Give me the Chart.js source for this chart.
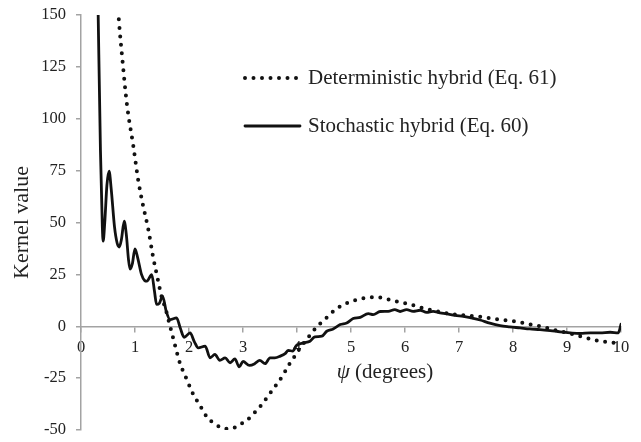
<!DOCTYPE html>
<html>
<head>
<meta charset="utf-8">
<script src="https://cdn.jsdelivr.net/npm/chart.js@4.4.1/dist/chart.umd.min.js"></script>
<style>
  html, body { margin: 0; padding: 0; background: #fff; }
</style>
</head>
<body>
<canvas id="kernelChart" width="641" height="442"></canvas>
<script>
// Deterministic hybrid (Eq. 61), dotted curve
const detX = [0.69, 0.70, 0.77, 0.85, 0.97, 1.06, 1.15, 1.25, 1.33, 1.43, 1.49, 1.57, 1.64, 1.70, 1.76, 1.83,
  1.96, 2.08, 2.20, 2.34, 2.45, 2.57, 2.73, 2.88, 3.00, 3.14, 3.24, 3.35, 3.44, 3.53, 3.62, 3.72, 3.80,
  3.88, 3.98, 4.07, 4.17, 4.25, 4.35, 4.46, 4.58, 4.69, 4.83, 4.97, 5.12, 5.28, 5.43, 5.59, 5.75, 5.91,
  6.06, 6.22, 6.37, 6.53, 6.68, 6.83, 6.99, 7.14, 7.30, 7.45, 7.62, 7.77, 7.93, 8.09, 8.24, 8.39, 8.55,
  8.70, 8.86, 9.01, 9.17, 9.32, 9.48, 9.63, 9.78, 10.0];
const detY = [152, 148, 127.6, 107, 86.7, 70.3, 58.1, 46.2, 34.1, 21.7, 14.5, 8, 1, -5, -11, -17.6,
  -25.7, -32.9, -38, -44.1, -46.5, -48.5, -49.4, -48.5, -46.5, -43.8, -40.9, -37.7, -34.5, -31.3, -28.1, -24.4, -20.9,
  -17.3, -13.6, -9.9, -6.7, -4, -0.8, 2.1, 4.8, 7.6, 10, 11.6, 12.9, 13.7, 14, 13.7, 12.5, 11.6,
  10.8, 9.6, 8.5, 7.6, 6.7, 6, 5.5, 5.2, 4.8, 4.4, 3.7, 3.2, 2.7, 2.1, 1.3, 0.5, -0.3,
  -1.3, -2.4, -3.2, -4.3, -5.3, -6.4, -7.2, -7.7, -8.3];

// Stochastic hybrid (Eq. 60), solid curve
const stoX = [0.315, 0.36, 0.395, 0.41, 0.44, 0.48, 0.52, 0.56, 0.62, 0.67, 0.71, 0.75, 0.80, 0.84, 0.88, 0.91,
  0.95, 1.00, 1.05, 1.12, 1.18, 1.22, 1.31, 1.36, 1.40, 1.45, 1.51, 1.58, 1.65, 1.77, 1.84, 1.91, 2.02,
  2.10, 2.17, 2.30, 2.39, 2.48, 2.57, 2.67, 2.76, 2.85, 2.93, 3.00, 3.12, 3.22, 3.31, 3.41, 3.50, 3.59,
  3.69, 3.78, 3.84, 3.92, 3.99, 4.12, 4.24, 4.33, 4.46, 4.55, 4.67, 4.80, 4.92, 5.04, 5.17, 5.32, 5.41,
  5.54, 5.69, 5.81, 5.91, 6.03, 6.15, 6.28, 6.40, 6.52, 6.65, 6.77, 6.93, 7.08, 7.23, 7.39, 7.57, 7.76,
  7.94, 8.13, 8.31, 8.50, 8.69, 8.87, 9.06, 9.24, 9.43, 9.61, 9.80, 9.95, 10.0];
const stoY = [155, 85, 48, 41, 50, 68, 74.7, 66, 48, 40, 38.2, 42, 50.6, 44, 32, 27.5,
  30, 37.3, 33, 25, 22, 21.7, 24.9, 17, 10.5, 11, 14.5, 7, 3.2, 4, -1, -5.3, -3.2,
  -7.5, -10.4, -9.6, -15.2, -13.6, -16.4, -15.2, -17.6, -15.7, -19.6, -16.9, -18.9, -18, -16.4, -18, -15.2, -15.2,
  -14.4, -13.2, -11.6, -12, -9.3, -8, -7.2, -5.1, -4.8, -2.4, -1.3, 0.8, 1.6, 3.7, 4.3, 6.1, 5.6,
  7.1, 7.2, 8, 7.1, 8, 7.2, 7.7, 6.7, 7.2, 6.4, 6, 5.2, 4.8, 4, 3, 1.5, 0.3,
  -0.3, -0.8, -1.3, -1.6, -2.1, -2.7, -3.2, -3.5, -3.2, -3.2, -2.9, -3.2, 1];

const yTicks = [-50, -25, 0, 25, 50, 75, 100, 125, 150];
const xTicks = [0, 1, 2, 3, 4, 5, 6, 7, 8, 9, 10];

const seriesLabels = ['Deterministic hybrid (Eq. 61)', 'Stochastic hybrid (Eq. 60)'];

const toPoints = (xs, ys) => xs.map((x, i) => ({ x: x, y: ys[i] }));

const SERIF = "'Liberation Serif', 'Times New Roman', serif";
const AXIS_GREY = '#a3a3a3';
const TEXT = '#222';

Chart.defaults.font.family = SERIF;
Chart.defaults.color = TEXT;

// legend drawn inside the plot, to the right
const sideLegend = {
  id: 'sideLegend',
  afterDraw(chart) {
    const ctx = chart.ctx;
    const area = chart.chartArea;
    chart.data.datasets.forEach((ds, i) => {
      const y = area.top + 63 + i * 48;
      const x0 = area.left + 164;
      ctx.save();
      ctx.strokeStyle = ds.borderColor;
      ctx.lineWidth = ds.borderWidth;
      ctx.lineCap = ds.borderCapStyle || 'butt';
      ctx.setLineDash(ds.borderDash || []);
      ctx.beginPath();
      ctx.moveTo(x0, y);
      ctx.lineTo(x0 + 55, y);
      ctx.stroke();
      ctx.setLineDash([]);
      ctx.fillStyle = TEXT;
      ctx.font = '21px ' + SERIF;
      ctx.textBaseline = 'middle';
      ctx.fillText(ds.label, x0 + 63, y);
      ctx.restore();
    });
  }
};

// x title with italic psi, sits under the tick labels of the zero line
const xTitle = {
  id: 'xTitle',
  afterDraw(chart) {
    const ctx = chart.ctx;
    const area = chart.chartArea;
    const y = chart.scales.y.getPixelForValue(0) + 46;
    const cx = area.left + 0.563 * (area.right - area.left);
    ctx.save();
    ctx.fillStyle = TEXT;
    ctx.textBaseline = 'middle';
    ctx.font = 'italic 21px ' + SERIF;
    const psi = 'ψ';
    const psiW = ctx.measureText(psi).width;
    ctx.font = '21px ' + SERIF;
    const rest = ' (degrees)';
    const restW = ctx.measureText(rest).width;
    const x0 = cx - (psiW + restW) / 2;
    ctx.font = 'italic 21px ' + SERIF;
    ctx.fillText(psi, x0, y);
    ctx.font = '21px ' + SERIF;
    ctx.fillText(rest, x0 + psiW, y);
    ctx.restore();
  }
};

new Chart(document.getElementById('kernelChart'), {
  type: 'line',
  data: {
    datasets: [{
      label: seriesLabels[0],
      data: toPoints(detX, detY),
      borderColor: '#111',
      borderWidth: 4,
      borderDash: [0, 8.5],
      borderCapStyle: 'round',
      pointRadius: 0,
      tension: 0.4,
      cubicInterpolationMode: 'monotone',
      fill: false
    }, {
      label: seriesLabels[1],
      data: toPoints(stoX, stoY),
      borderColor: '#111',
      borderWidth: 2.8,
      borderCapStyle: 'round',
      borderJoinStyle: 'round',
      pointRadius: 0,
      cubicInterpolationMode: 'monotone',
      fill: false
    }]
  },
  options: {
    responsive: false,
    animation: false,
    layout: { padding: { left: 0, right: 20, top: 15, bottom: 12 } },
    plugins: {
      legend: { display: false },
      tooltip: { enabled: false }
    },
    scales: {
      x: {
        type: 'linear',
        position: { y: 0 },
        min: 0,
        max: 10,
        afterBuildTicks: (scale) => { scale.ticks = xTicks.map(v => ({ value: v })); },
        afterFit: (scale) => { scale.paddingLeft = 0; scale.paddingRight = 0; },
        border: { display: true, color: AXIS_GREY, width: 1.5 },
        grid: { display: true, drawOnChartArea: false, drawTicks: true, tickLength: 5, color: AXIS_GREY, lineWidth: 1.5 },
        ticks: { font: { size: 16.5 }, color: TEXT, padding: 7, maxRotation: 0, autoSkip: false }
      },
      y: {
        min: -50,
        max: 150,
        afterBuildTicks: (scale) => { scale.ticks = yTicks.map(v => ({ value: v })); },
        afterFit: (scale) => { scale.width = 81; scale.paddingTop = 0; scale.paddingBottom = 0; },
        border: { display: true, color: AXIS_GREY, width: 1.5 },
        grid: { display: true, drawOnChartArea: false, drawTicks: true, tickLength: 5, color: AXIS_GREY, lineWidth: 1.5 },
        ticks: { font: { size: 16.5 }, color: TEXT, padding: 10 },
        title: { display: true, text: 'Kernel value', font: { size: 22 }, color: TEXT, padding: { top: 9, bottom: 0 } }
      }
    }
  },
  plugins: [sideLegend, xTitle]
});
</script>
</body>
</html>
